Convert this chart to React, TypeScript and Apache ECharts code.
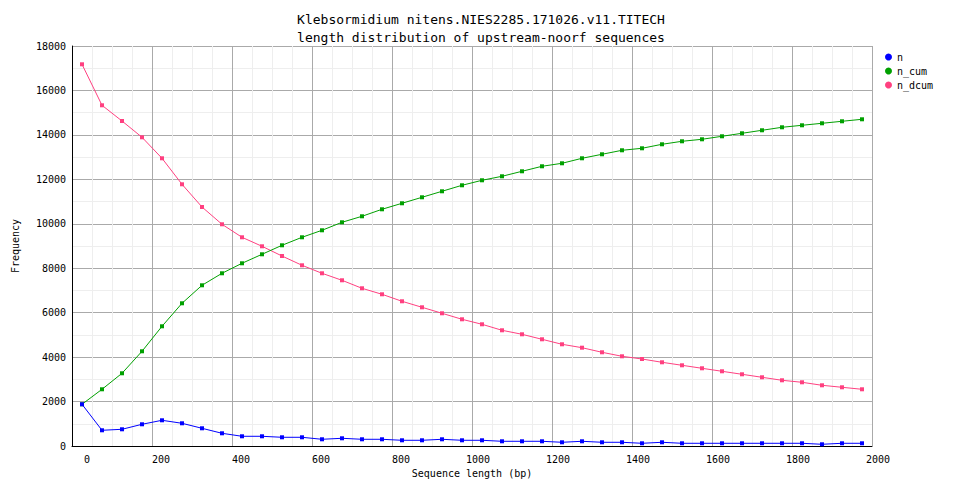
import React, { useEffect, useRef } from "react";
import * as echarts from "echarts";

const lengths = [
  25, 75, 125, 175, 225, 275, 325, 375, 425, 475,
  525, 575, 625, 675, 725, 775, 825, 875, 925, 975,
  1025, 1075, 1125, 1175, 1225, 1275, 1325, 1375, 1425, 1475,
  1525, 1575, 1625, 1675, 1725, 1775, 1825, 1875, 1925, 1975,
];

const nValues = [
  1877, 707, 752, 977, 1157, 1022, 797, 572, 437, 437,
  392, 392, 302, 347, 302, 302, 257, 257, 302, 257,
  257, 212, 212, 212, 167, 212, 167, 167, 122, 167,
  122, 122, 122, 122, 122, 122, 122, 77, 122, 122,
];

const nCumValues = [
  1877, 2552, 3272, 4262, 5387, 6422, 7232, 7772, 8222, 8627,
  9032, 9392, 9707, 10067, 10337, 10652, 10922, 11192, 11462, 11732,
  11957, 12137, 12362, 12587, 12722, 12947, 13127, 13307, 13397, 13577,
  13712, 13802, 13937, 14072, 14207, 14342, 14432, 14522, 14612, 14702,
];

const nDcumValues = [
  17177, 15332, 14625, 13892, 12947, 11777, 10755, 9977, 9392, 8987,
  8550, 8132, 7772, 7457, 7097, 6827, 6512, 6242, 5972, 5702,
  5477, 5207, 5027, 4802, 4577, 4424, 4217, 4037, 3915, 3767,
  3632, 3497, 3362, 3227, 3092, 2957, 2867, 2732, 2642, 2552,
];

const seriesNames = ["n", "n_cum", "n_dcum"];
const seriesColors = ["#0000ff", "#00a000", "#ff4080"];
const titleLines = [
  "Klebsormidium nitens.NIES2285.171026.v11.TITECH",
  "length distribution of upstream-noorf sequences",
];

const FONT = "DejaVu Sans Mono";
const plain = (v: number) => String(v);

export default function App() {
  const ref = useRef<HTMLDivElement>(null);
  useEffect(() => {
    document.body.style.margin = "0";
    if (!ref.current) return;
    const chart = echarts.init(ref.current, undefined, { renderer: "svg" });
    const allData = [nValues, nCumValues, nDcumValues];
    chart.setOption({
      animation: false,
      backgroundColor: "#ffffff",
      title: {
        text: titleLines.join("\n"),
        left: "center",
        top: 5,
        textStyle: {
          fontFamily: FONT,
          fontSize: 13,
          fontWeight: "normal",
          color: "#000",
          lineHeight: 18,
        },
      },
      legend: {
        orient: "vertical",
        left: 880,
        top: 46,
        itemWidth: 7,
        itemHeight: 7,
        itemGap: 2,
        icon: "circle",
        data: seriesNames,
        textStyle: { fontFamily: FONT, fontSize: 10, color: "#000", lineHeight: 12 },
      },
      grid: [
        { left: 72, right: 90, top: 46, bottom: 52 },
        { left: 90, right: 72, top: 46, bottom: 52 },
      ],
      xAxis: [
        {
          type: "value",
          gridIndex: 0,
          min: 0,
          max: 2000,
          interval: 200,
          name: "Sequence length (bp)",
          nameLocation: "middle",
          nameGap: 22,
          nameTextStyle: { fontFamily: FONT, fontSize: 10, color: "#000" },
          axisLine: { show: true, onZero: false, lineStyle: { color: "#000", width: 1 } },
          axisTick: { show: false },
          axisLabel: { show: false },
          splitLine: { show: true, lineStyle: { color: "#aaaaaa", width: 1 } },
          minorTick: { show: false, splitNumber: 4 },
          minorSplitLine: { show: true, lineStyle: { color: "#eeeeee", width: 1 } },
        },
        {
          type: "value",
          gridIndex: 1,
          min: 0,
          max: 2000,
          interval: 200,
          axisLine: { show: false },
          axisTick: { show: false },
          splitLine: { show: false },
          axisLabel: {
            show: true,
            align: "right",
            margin: 8,
            fontFamily: FONT,
            fontSize: 10,
            color: "#000",
            formatter: plain,
          },
        },
      ],
      yAxis: [
        {
          type: "value",
          gridIndex: 0,
          min: 0,
          max: 18000,
          interval: 2000,
          name: "Frequency",
          nameLocation: "middle",
          nameGap: 52,
          nameTextStyle: { fontFamily: FONT, fontSize: 10, color: "#000" },
          axisLine: { show: true, onZero: false, lineStyle: { color: "#000", width: 1 } },
          axisTick: { show: false },
          axisLabel: {
            show: true,
            margin: 6,
            fontFamily: FONT,
            fontSize: 10,
            color: "#000",
            padding: [6, 0, 0, 0],
            formatter: plain,
          },
          splitLine: { show: true, lineStyle: { color: "#aaaaaa", width: 1 } },
          minorTick: { show: false, splitNumber: 2 },
          minorSplitLine: { show: true, lineStyle: { color: "#eeeeee", width: 1 } },
        },
        {
          type: "value",
          gridIndex: 1,
          min: 0,
          max: 18000,
          show: false,
        },
      ],
      series: seriesNames.map((name, i) => ({
        name,
        type: "line",
        xAxisIndex: 0,
        yAxisIndex: 0,
        data: lengths.map((x, j) => [x, allData[i][j]]),
        symbol: "rect",
        symbolSize: 4,
        showSymbol: true,
        itemStyle: { color: seriesColors[i] },
        lineStyle: { color: seriesColors[i], width: 1 },
        z: 10 - i,
      })),
    });
    return () => chart.dispose();
  }, []);
  return <div ref={ref} style={{ width: 962, height: 498 }} />;
}
